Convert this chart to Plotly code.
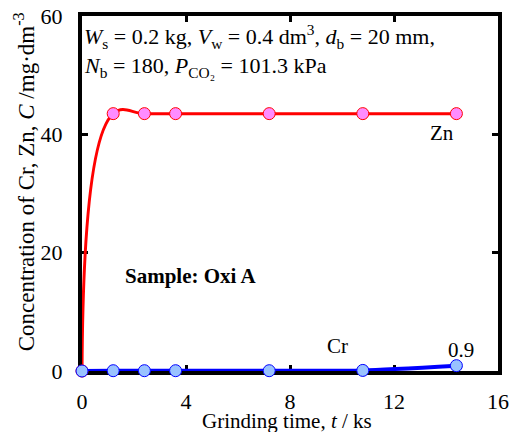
import plotly.graph_objects as go

time_ks = [0, 1.2, 2.4, 3.6, 7.2, 10.8, 14.4]
zn_conc = [0, 43.5, 43.5, 43.5, 43.5, 43.5, 43.5]
cr_conc = [0, 0.05, 0.05, 0.05, 0.05, 0.1, 0.9]
x_ticks = [0, 4, 8, 12, 16]
y_ticks = [0, 20, 40, 60]

FONT = "Liberation Serif"

fig = go.Figure()
fig.add_trace(go.Scatter(
    x=time_ks, y=zn_conc, mode="lines+markers", cliponaxis=False,
    line=dict(color="#ff0000", width=3, shape="spline", smoothing=1.2),
    marker=dict(size=12, color="#ff8cff", line=dict(color="#ff0000", width=1)),
    showlegend=False))
fig.add_trace(go.Scatter(
    x=time_ks, y=cr_conc, mode="lines+markers", cliponaxis=False,
    line=dict(color="#0000ff", width=4, shape="spline", smoothing=0.6),
    marker=dict(size=12, color="#99c2ff", line=dict(color="#0000ff", width=1)),
    showlegend=False))

def ann(size):
    return dict(showarrow=False, font=dict(family=FONT, size=size, color="black"))

fig.add_annotation(x=13.86, y=40.2, text="Zn", **ann(21))
fig.add_annotation(x=9.83, y=4.2, text="Cr", **ann(21))
fig.add_annotation(x=14.57, y=3.6, text="0.9", **ann(21))
fig.add_annotation(x=4.2, y=16.1, text="<b>Sample: Oxi A</b>", **ann(21))
fig.add_annotation(x=0.0, y=56.5, xanchor="left", align="left",
                   text="<i>W</i><sub>s</sub> = 0.2 kg, <i>V</i><sub>w</sub> = 0.4 dm<sup>3</sup>, <i>d</i><sub>b</sub> = 20 mm,",
                   **ann(22))
fig.add_annotation(x=0.0, y=51.3, xanchor="left", align="left",
                   text="<i>N</i><sub>b</sub> = 180, <i>P</i><sub>CO₂</sub> = 101.3 kPa",
                   **ann(22))
fig.add_annotation(xref="paper", yref="paper", x=0.493, y=-0.14, xanchor="center",
                   yanchor="middle", text="Grinding time, <i>t</i> / ks", **ann(21))
fig.add_annotation(xref="paper", yref="paper", x=-0.139, y=0.532, xanchor="center",
                   yanchor="middle", textangle=-90,
                   text="Concentration of Cr, Zn, <i>C</i> /mg·dm<sup>-3</sup>", **ann(23))

axis_common = dict(showgrid=False, zeroline=False, showline=True, linecolor="black",
                   linewidth=4, mirror="ticks", ticks="inside", ticklen=6,
                   tickwidth=3, tickcolor="black", automargin=False,
                   layer="below traces", ticklabeloverflow="allow",
                   tickfont=dict(family=FONT, size=22, color="black"))
fig.update_xaxes(range=[0, 16], tickvals=x_ticks, ticklabelstandoff=8, **axis_common)
fig.update_yaxes(range=[0, 60], tickvals=y_ticks, ticklabelstandoff=11, **axis_common)

# page body has an 8px margin, so the figure is sized/offset to compensate
fig.update_layout(
    width=509, height=424,
    margin=dict(l=74, r=19, t=8, b=61),
    plot_bgcolor="white", paper_bgcolor="white",
    font=dict(family=FONT, size=20, color="black"),
)
fig.write_html("out.html")
